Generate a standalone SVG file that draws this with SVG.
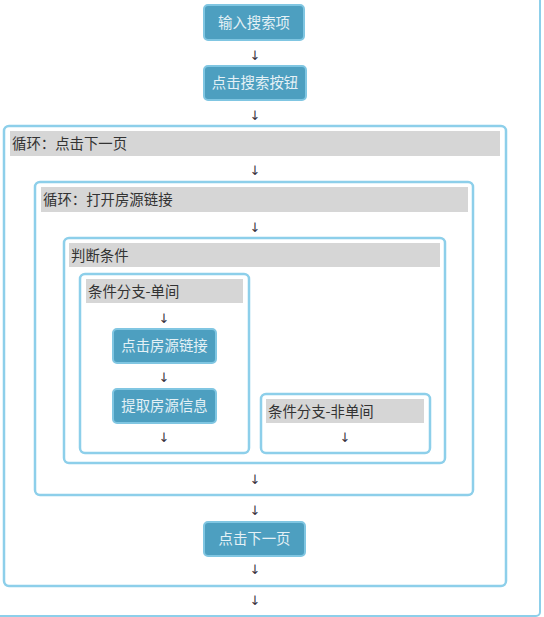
<svg xmlns="http://www.w3.org/2000/svg" width="544" height="617" viewBox="0 0 544 617">
<style>
.frame{fill:#ffffff;stroke:#8dcfea;stroke-width:2.5}
.outer{fill:#ffffff;stroke:#8dcfea;stroke-width:2}
.hdr{fill:#d6d6d6}
.htxt{font-family:"Noto Sans CJK SC","Liberation Sans",sans-serif;font-size:14.4px;fill:#333333}
.btn{fill:#4d9fc0;stroke:#80c6e2;stroke-width:2}
.btxt{font-family:"Noto Sans CJK SC","Liberation Sans",sans-serif;font-size:14.4px;fill:#e4f1f6;text-anchor:middle}
.arr{font-family:"DejaVu Sans","Liberation Sans",sans-serif;font-size:13px;fill:#3a3340;text-anchor:middle}
</style>
<rect width="544" height="617" fill="#ffffff"/>
<g id="outer"><rect class="outer" x="-10" y="-10" width="550" height="626" rx="4"/></g>
<g id="loop-page">
<rect class="frame" x="4" y="126" width="502" height="460" rx="5"/>
<rect class="hdr" x="10" y="131" width="490" height="25"/>
<text class="htxt" x="12" y="149">循环：点击下一页</text>
</g>
<g id="loop-link">
<rect class="frame" x="35" y="182" width="438" height="313" rx="5"/>
<rect class="hdr" x="41" y="187" width="427" height="25"/>
<text class="htxt" x="43" y="205">循环：打开房源链接</text>
</g>
<g id="judge">
<rect class="frame" x="64" y="238" width="381" height="225" rx="5"/>
<rect class="hdr" x="69" y="243" width="371" height="24"/>
<text class="htxt" x="71" y="261">判断条件</text>
</g>
<g id="branch-single">
<rect class="frame" x="80" y="274" width="169" height="179" rx="5"/>
<rect class="hdr" x="86" y="279" width="157" height="24"/>
<text class="htxt" x="88" y="297">条件分支-单间</text>
</g>
<g id="branch-multi">
<rect class="frame" x="261" y="394" width="169" height="59" rx="5"/>
<rect class="hdr" x="266" y="399" width="158" height="24"/>
<text class="htxt" x="268" y="417">条件分支-非单间</text>
</g>
<g id="input-search">
<rect class="btn" x="204" y="5" width="100" height="35" rx="4"/>
<text class="btxt" x="254" y="28">输入搜索项</text>
</g>
<g id="click-search">
<rect class="btn" x="204" y="66" width="102" height="34" rx="4"/>
<text class="btxt" x="255" y="88">点击搜索按钮</text>
</g>
<g id="click-link">
<rect class="btn" x="113" y="329" width="103" height="34" rx="4"/>
<text class="btxt" x="164.5" y="351">点击房源链接</text>
</g>
<g id="extract-info">
<rect class="btn" x="113" y="389" width="103" height="34" rx="4"/>
<text class="btxt" x="164.5" y="411">提取房源信息</text>
</g>
<g id="next-page">
<rect class="btn" x="204" y="522" width="101" height="34" rx="4"/>
<text class="btxt" x="254.5" y="544">点击下一页</text>
</g>
<g id="connectors">
<text class="arr" x="255" y="60">↓</text>
<text class="arr" x="255" y="120">↓</text>
<text class="arr" x="255" y="175">↓</text>
<text class="arr" x="255" y="232">↓</text>
<text class="arr" x="164" y="323">↓</text>
<text class="arr" x="164" y="382">↓</text>
<text class="arr" x="164" y="442">↓</text>
<text class="arr" x="345" y="442">↓</text>
<text class="arr" x="255" y="484">↓</text>
<text class="arr" x="255" y="515">↓</text>
<text class="arr" x="255" y="574">↓</text>
<text class="arr" x="255" y="605">↓</text>
</g>
</svg>
